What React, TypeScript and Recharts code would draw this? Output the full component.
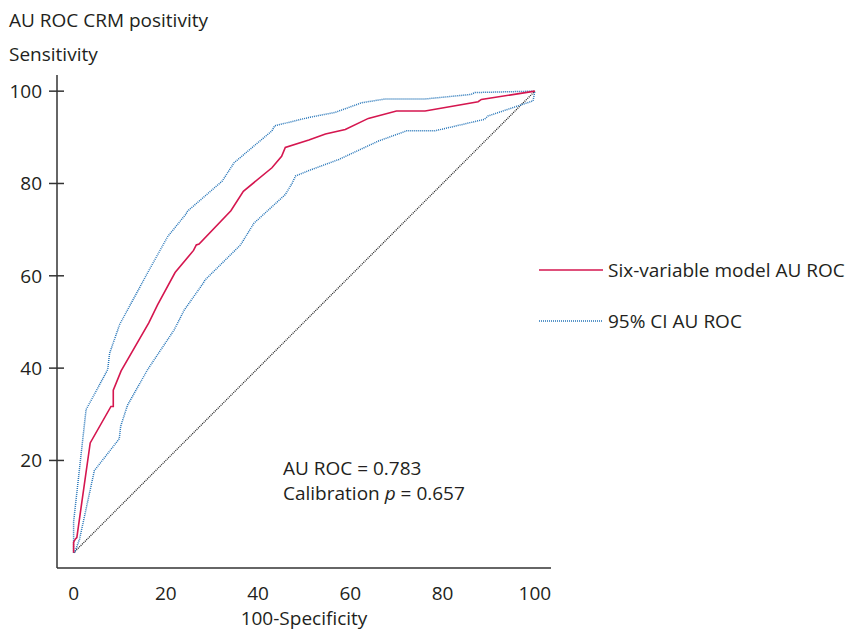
import React from "react";
import { LineChart, Line, XAxis, YAxis, Customized } from "recharts";

const rocX = [0, 0, 0.4, 0.7, 3.6, 8.1, 8.6, 8.6, 10.3, 16.3, 18.2, 22.0, 26.0, 26.6, 27.2, 34.1, 36.8, 43.0, 45.1, 45.9, 51.0, 54.6, 58.9, 63.9, 70.0, 76.2, 87.7, 88.4, 100];
const rocY = [0, 2.3, 3.0, 3.3, 23.8, 31.7, 31.7, 35.2, 39.4, 49.8, 53.7, 60.7, 65.5, 66.7, 66.9, 74.1, 78.3, 83.4, 85.9, 87.8, 89.4, 90.7, 91.7, 94.1, 95.7, 95.7, 97.7, 98.2, 100];

const upperX = [0, 0, 2.7, 7.4, 7.8, 10.0, 16.4, 20.4, 24.3, 24.7, 32.2, 34.8, 43.0, 43.6, 51.0, 56.7, 62.5, 67.5, 76.2, 86.2, 87.0, 100];
const upperY = [0, 6.7, 31.0, 39.7, 43.2, 49.5, 61.3, 68.5, 73.3, 74.0, 80.5, 84.5, 91.4, 92.5, 94.3, 95.4, 97.5, 98.3, 98.3, 99.3, 99.7, 100];

const lowerX = [0.2, 1.3, 4.5, 9.9, 10.2, 11.7, 16.0, 21.8, 24.0, 28.1, 28.5, 36.2, 39.1, 45.9, 47.4, 48.1, 51.0, 57.5, 66.1, 72.2, 78.3, 89.1, 89.8, 99.6, 100];
const lowerY = [0, 3.0, 17.8, 24.7, 27.4, 32.0, 39.6, 48.3, 52.6, 58.4, 59.1, 66.7, 71.4, 77.6, 80.1, 81.6, 82.8, 85.2, 89.2, 91.4, 91.4, 93.9, 94.6, 97.9, 100];

const diagX = [0, 100];
const diagY = [0, 100];

const xTicks = [0, 20, 40, 60, 80, 100];
const yTicks = [20, 40, 60, 80, 100];

const title = "AU ROC CRM positivity";
const yTitle = "Sensitivity";
const xTitle = "100-Specificity";
const seriesNames = ["Six-variable model AU ROC", "95% CI AU ROC"];
const annot1 = "AU ROC = 0.783";
const annot2a = "Calibration ";
const annot2b = "p";
const annot2c = " = 0.657";

const zip = (xs: number[], ys: number[]) => xs.map((x, i) => ({ x, y: ys[i] }));

const rocData = zip(rocX, rocY);
const upperData = zip(upperX, upperY);
const lowerData = zip(lowerX, lowerY);
const diagData = zip(diagX, diagY);

const FONT = "'Open Sans', 'Noto Sans', sans-serif";
const FS = 19;
const TXT = "#231f20";
const RED = "#d5164f";
const BLUE = "#2474b8";

const XTick = (props: any) => {
  const { x, y, payload } = props;
  return (
    <text x={x} y={y + 32} textAnchor="middle" fontSize={FS} fontFamily={FONT} fill={TXT}>
      {payload.value}
    </text>
  );
};

const YTick = (props: any) => {
  const { x, y, payload } = props;
  return (
    <g>
      <line x1={x - 8} x2={x + 7} y1={y} y2={y} stroke="#333" strokeWidth={1.5} />
      <text x={x - 15} y={y + 7} textAnchor="end" fontSize={FS} fontFamily={FONT} fill={TXT}>
        {payload.value}
      </text>
    </g>
  );
};

const Overlay = () => (
  <g fontFamily={FONT} fill={TXT} fontSize={FS}>
    <text x={9} y={27}>{title}</text>
    <text x={9} y={61}>{yTitle}</text>
    <text x={304} y={625} textAnchor="middle">{xTitle}</text>
    <text x={283} y={475}>{annot1}</text>
    <text x={283} y={500}>
      {annot2a}
      <tspan fontStyle="italic">{annot2b}</tspan>
      {annot2c}
    </text>
    <line x1={539} x2={603} y1={270} y2={270} stroke={RED} strokeWidth={1.6} />
    <text x={608} y={277}>{seriesNames[0]}</text>
    <line x1={539} x2={603} y1={321} y2={321} stroke={BLUE} strokeWidth={1.5} strokeDasharray="1 1" />
    <text x={608} y={328}>{seriesNames[1]}</text>
  </g>
);

export default function App() {
  return (
    <div style={{ position: "absolute", left: 0, top: 0, background: "#fff" }}>
      <LineChart width={849} height={632} margin={{ top: 75, right: 298, bottom: 0, left: 0 }}>
        <XAxis
          type="number"
          dataKey="x"
          domain={[-3.6, 103.5]}
          ticks={xTicks}
          allowDataOverflow
          height={64}
          axisLine={{ stroke: "#333", strokeWidth: 1.5 }}
          tickLine={false}
          tickSize={0}
          tickMargin={0}
          tick={<XTick />}
        />
        <YAxis
          type="number"
          dataKey="y"
          domain={[-3.3, 103.5]}
          ticks={yTicks}
          allowDataOverflow
          width={57}
          axisLine={{ stroke: "#333", strokeWidth: 1.5 }}
          tickLine={false}
          tickSize={0}
          tickMargin={0}
          tick={<YTick />}
        />
        <Line data={diagData} dataKey="y" type="linear" stroke="#222" strokeWidth={1.3} strokeDasharray="1 1" dot={false} isAnimationActive={false} />
        <Line data={upperData} dataKey="y" type="linear" stroke={BLUE} strokeWidth={1.5} strokeDasharray="1 1" dot={false} isAnimationActive={false} />
        <Line data={lowerData} dataKey="y" type="linear" stroke={BLUE} strokeWidth={1.5} strokeDasharray="1 1" dot={false} isAnimationActive={false} />
        <Line data={rocData} dataKey="y" type="linear" stroke={RED} strokeWidth={1.6} dot={false} isAnimationActive={false} />
        <Customized component={Overlay} />
      </LineChart>
    </div>
  );
}
